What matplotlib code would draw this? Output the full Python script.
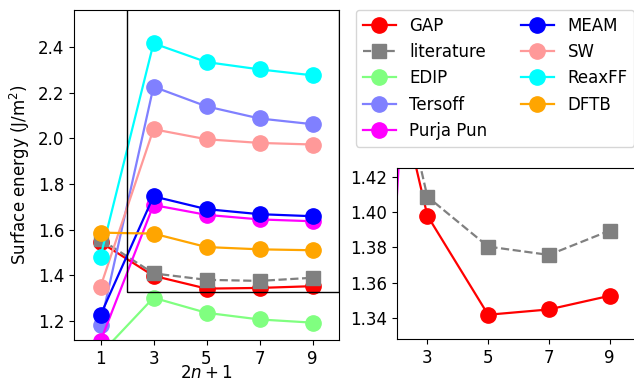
import matplotlib
matplotlib.use("Agg")
import matplotlib.pyplot as plt
from matplotlib.patches import Rectangle

x = [1, 3, 5, 7, 9]
gap = [1.545, 1.398, 1.342, 1.345, 1.3527]
literature = [1.558, 1.4087, 1.3805, 1.3758, 1.3895]
edip = [1.056, 1.302, 1.236, 1.207, 1.193]
tersoff = [1.183, 2.226, 2.140, 2.087, 2.062]
purja_pun = [1.112, 1.708, 1.665, 1.645, 1.637]
meam = [1.226, 1.746, 1.690, 1.668, 1.659]
sw = [1.350, 2.040, 1.996, 1.980, 1.973]
reaxff = [1.482, 2.416, 2.334, 2.302, 2.276]
dftb = [1.587, 1.583, 1.524, 1.514, 1.510]

series = [
    ("GAP", gap, "#ff0000", "o", "-"),
    ("literature", literature, "#808080", "s", "--"),
    ("EDIP", edip, "#80ff80", "o", "-"),
    ("Tersoff", tersoff, "#8080ff", "o", "-"),
    ("Purja Pun", purja_pun, "#ff00ff", "o", "-"),
    ("MEAM", meam, "#0000ff", "o", "-"),
    ("SW", sw, "#ff9999", "o", "-"),
    ("ReaxFF", reaxff, "#00ffff", "o", "-"),
    ("DFTB", dftb, "#ffa500", "o", "-"),
]

main_xticks = [1, 3, 5, 7, 9]
main_yticks = [1.2, 1.4, 1.6, 1.8, 2.0, 2.2, 2.4]
inset_xticks = [3, 5, 7, 9]
inset_yticks = [1.34, 1.36, 1.38, 1.40, 1.42]

plt.rcParams['font.size'] = 12
fig = plt.figure(figsize=(6.34, 3.81), dpi=100)
ax = fig.add_axes([74/634, 1-340/381, (339-74)/634, (340-10)/381])
axi = fig.add_axes([397/634, 1-339/381, (640-397)/634, (339-168)/381])

handles = []
for name, vals, col, mk, ls in series:
    ms = 11 if mk == "o" else 10
    h, = ax.plot(x, vals, color=col, marker=mk, ls=ls, lw=1.6, ms=ms, label=name)
    axi.plot(x, vals, color=col, marker=mk, ls=ls, lw=1.6, ms=ms)
    handles.append(h)

ax.set_xlim(0, 10)
ax.set_ylim(1.117, 2.562)
ax.set_xticks(main_xticks)
ax.set_yticks(main_yticks)
ax.set_xlabel("$2n+1$", labelpad=-2.5)
ax.set_ylabel("Surface energy (J/m$^2$)")

axi.set_xlim(2, 10)
axi.set_ylim(1.3283, 1.4249)
axi.set_xticks(inset_xticks)
axi.set_yticks(inset_yticks)

y0 = axi.get_ylim()[0]
x0 = axi.get_xlim()[0]
ax.add_patch(Rectangle((x0, y0), axi.get_xlim()[1] - x0, 3, fill=False,
                       edgecolor="black", lw=1.0, zorder=5))

fig.legend(handles=handles, ncol=2, loc="upper left",
           bbox_to_anchor=(356/634, 1-10/381), borderaxespad=0,
           fontsize=12, handlelength=2.0, columnspacing=2.0)

fig.savefig("out.png", dpi=100)
